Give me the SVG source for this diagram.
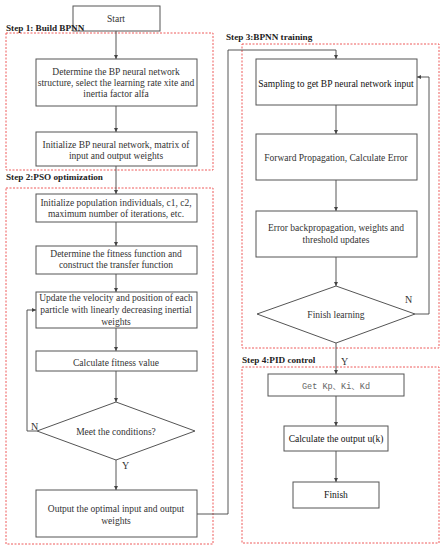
<svg xmlns="http://www.w3.org/2000/svg" width="446" height="550" viewBox="0 0 446 550">
<defs>
<marker id="ah" viewBox="0 0 6 6" refX="6" refY="3" markerWidth="4" markerHeight="4" orient="auto" markerUnits="userSpaceOnUse">
<path d="M0,0 L6,3 L0,6 Z" fill="#444"/>
</marker>
</defs>
<style>
.box{fill:#fff;stroke:#555;stroke-width:1}
.grp{fill:none;stroke:#ee5a5a;stroke-width:1;stroke-dasharray:2,1.5}
.t{font-family:"Liberation Serif","Times New Roman",serif;font-size:9.5px;fill:#333;text-anchor:middle}
.d{fill:#111}
.lbl{font-family:"Liberation Serif","Times New Roman",serif;font-size:9.2px;font-weight:bold;fill:#222}
.yn{font-family:"Liberation Serif","Times New Roman",serif;font-size:10px;fill:#333}
.mono{font-family:"Liberation Mono","Noto Sans CJK SC",monospace;font-size:8.5px;fill:#666;text-anchor:middle}
.c{fill:none;stroke:#444;stroke-width:0.9}
</style>
<rect width="446" height="550" fill="#fff"/>
<g id="groups">
<rect class="grp" x="6" y="33" width="207" height="137"/>
<rect class="grp" x="6" y="188" width="207" height="356"/>
<rect class="grp" x="242" y="44" width="197" height="304"/>
<rect class="grp" x="242" y="367" width="197" height="176"/>
</g>
<g id="connectors">
<path class="c" d="M116,31 V59" marker-end="url(#ah)"/>
<path class="c" d="M116,106 V132" marker-end="url(#ah)"/>
<path class="c" d="M116,166 V194" marker-end="url(#ah)"/>
<path class="c" d="M116,222 V246" marker-end="url(#ah)"/>
<path class="c" d="M116,274 V292" marker-end="url(#ah)"/>
<path class="c" d="M116,328 V351" marker-end="url(#ah)"/>
<path class="c" d="M116,371 V402" marker-end="url(#ah)"/>
<path class="c" d="M116,460 V490" marker-end="url(#ah)"/>
<path class="c" d="M37,431 H27 V310 H36" marker-end="url(#ah)"/>
<path class="c" d="M197,514 H228 V50 H336 V59" marker-end="url(#ah)"/>
<path class="c" d="M336,105 V134" marker-end="url(#ah)"/>
<path class="c" d="M336,180 V211" marker-end="url(#ah)"/>
<path class="c" d="M336,257 V286" marker-end="url(#ah)"/>
<path class="c" d="M415,314 H429 V77 H417" marker-end="url(#ah)"/>
<path class="c" d="M336,343 V374" marker-end="url(#ah)"/>
<path class="c" d="M336,396 V426" marker-end="url(#ah)"/>
<path class="c" d="M336,451 V482" marker-end="url(#ah)"/>
<text class="yn" x="31" y="430">N</text>
<text class="yn" x="122" y="469">Y</text>
<text class="yn" x="405" y="303">N</text>
<text class="yn" x="341" y="365">Y</text>
</g>
<g id="start">
<rect class="box" x="73" y="6" width="87" height="25"/>
<text class="t" x="116" y="21.5">Start</text>
</g>
<g id="n1">
<rect class="box" x="36" y="59" width="161" height="47"/>
<text class="t" x="116" y="75">Determine the BP neural network</text>
<text class="t" x="116" y="86">structure, select the learning rate xite and</text>
<text class="t" x="116" y="96.6">inertia factor alfa</text>
</g>
<g id="n2">
<rect class="box" x="36" y="132" width="161" height="34"/>
<text class="t" x="116" y="147.5">Initialize BP neural network, matrix of</text>
<text class="t" x="116" y="159">input and output weights</text>
</g>
<g id="n3">
<rect class="box" x="36" y="194" width="161" height="28"/>
<text class="t" x="116" y="206">Initialize population individuals, c1, c2,</text>
<text class="t" x="116" y="217.3">maximum number of iterations, etc.</text>
</g>
<g id="n4">
<rect class="box" x="36" y="246" width="161" height="28"/>
<text class="t" x="116" y="256.6">Determine the fitness function and</text>
<text class="t" x="116" y="268.3">construct the transfer function</text>
</g>
<g id="n5">
<rect class="box" x="36" y="292" width="161" height="36"/>
<text class="t" x="116" y="300.6">Update the velocity and position of each</text>
<text class="t" x="116" y="312.6">particle with linearly decreasing inertial</text>
<text class="t" x="116" y="325">weights</text>
</g>
<g id="n6">
<rect class="box" x="36" y="351" width="161" height="20"/>
<text class="t" x="116" y="365.5">Calculate fitness value</text>
</g>
<g id="d1">
<path class="box" d="M116,402 L195,431 L116,460 L37,431 Z"/>
<text class="t" x="116" y="435">Meet the conditions?</text>
</g>
<g id="n7">
<rect class="box" x="36" y="490" width="161" height="47"/>
<text class="t" x="116" y="511.5">Output the optimal input and output</text>
<text class="t" x="116" y="524">weights</text>
</g>
<g id="n8">
<rect class="box" x="256" y="59" width="161" height="46"/>
<text class="t d" x="336" y="86.5">Sampling to get BP neural network input</text>
</g>
<g id="n9">
<rect class="box" x="256" y="134" width="161" height="46"/>
<text class="t" x="336" y="160.5">Forward Propagation, Calculate Error</text>
</g>
<g id="n10">
<rect class="box" x="256" y="211" width="161" height="46"/>
<text class="t" x="336" y="231">Error backpropagation, weights and</text>
<text class="t" x="336" y="243.3">threshold updates</text>
</g>
<g id="d2">
<path class="box" d="M336,286 L415,314 L336,343 L257,314 Z"/>
<text class="t" x="336" y="317.5">Finish learning</text>
</g>
<g id="n11">
<rect class="box" x="268" y="374" width="136" height="22"/>
<text class="mono" x="336" y="388.5">Get Kp、Ki、Kd</text>
</g>
<g id="n12">
<rect class="box" x="284" y="426" width="104" height="25"/>
<text class="t d" x="336" y="442">Calculate the output u(k)</text>
</g>
<g id="n13">
<rect class="box" x="293" y="482" width="86" height="26"/>
<text class="t d" x="336" y="498">Finish</text>
</g>
<g id="group-labels">
<text class="lbl" x="6" y="31">Step 1: Build BPNN</text>
<text class="lbl" x="6" y="180">Step 2:PSO optimization</text>
<text class="lbl" x="226" y="40">Step 3:BPNN training</text>
<text class="lbl" x="242" y="363">Step 4:PID control</text>
</g>
</svg>
